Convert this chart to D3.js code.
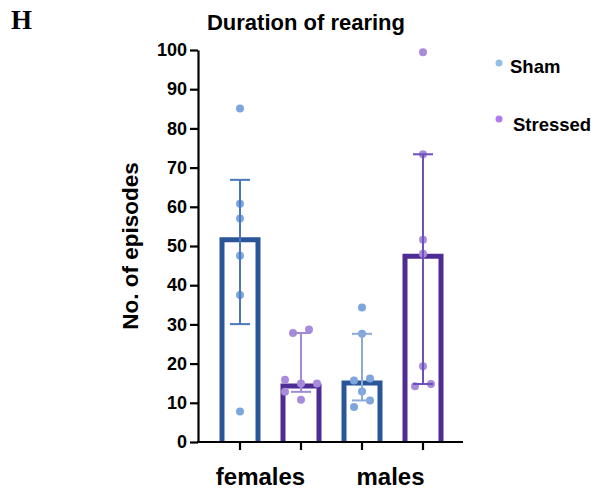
<!DOCTYPE html>
<html>
<head>
<meta charset="utf-8">
<script src="https://cdn.jsdelivr.net/npm/d3@7"></script>
<style>
  html, body { margin: 0; padding: 0; background: #fff; }
  svg text { font-family: "Liberation Sans", Arial, Helvetica, sans-serif; font-weight: bold; fill: #000; }
</style>
</head>
<body>
<svg id="chart" width="608" height="494"></svg>
<script>
// Duration of rearing: individual animals per group, bars = median, whiskers = interquartile range
const groups = ["females", "males"];
const series = ["Sham", "Stressed"];
const femalesSham = [85.1, 60.8, 57.0, 47.5, 37.5, 7.8];
const femalesStressed = [28.7, 27.8, 15.9, 14.9, 14.9, 12.8, 10.8];
const malesSham = [34.3, 27.6, 16.2, 15.7, 12.9, 10.6, 8.9];
const malesStressed = [99.4, 73.4, 51.6, 48.0, 19.3, 14.8, 14.2];
const yTicks = [0, 10, 20, 30, 40, 50, 60, 70, 80, 90, 100];

// horizontal spread of overlapping dots (in dot columns)
const spread = {
  "females|Sham": [0, 0, 0, 0, 0, 0],
  "females|Stressed": [1, -1, -2, 0, 2, -2, 0],
  "males|Sham": [0, 0, 1, -1, 0, 1, -1],
  "males|Stressed": [0, 0, 0, 0, 0, 1, -1]
};

const barColor = { Sham: "#2a5699", Stressed: "#4f2c94" };
const dotColor = { Sham: "#7ea6de", Stressed: "#a98bdb" };
const whiskerColor = {
  "females|Sham": "#4a78ba",
  "females|Stressed": "#a08ad6",
  "males|Sham": "#8caad8",
  "males|Stressed": "#6e50bc"
};
const legendColor = { Sham: "#93bfe6", Stressed: "#b07af0" };

const values = {
  "females|Sham": femalesSham,
  "females|Stressed": femalesStressed,
  "males|Sham": malesSham,
  "males|Stressed": malesStressed
};

// quantile with the (n+1)p rule
function quant(arr, p) {
  const s = arr.slice().sort((a, b) => a - b);
  const n = s.length;
  const pos = p * (n + 1);
  if (pos <= 1) return s[0];
  if (pos >= n) return s[n - 1];
  const lo = Math.floor(pos);
  return s[lo - 1] + (pos - lo) * (s[lo] - s[lo - 1]);
}

const keys = [];
groups.forEach(g => series.forEach(s => keys.push(g + "|" + s)));
const stats = keys.map(k => ({
  key: k,
  group: k.split("|")[0],
  series: k.split("|")[1],
  median: quant(values[k], 0.5),
  q1: quant(values[k], 0.25),
  q3: quant(values[k], 0.75)
}));

const svg = d3.select("#chart");

const y = d3.scaleLinear().domain([0, 100]).range([442, 50]);
const x = d3.scalePoint().domain(keys).range([240, 423]);
const barW = 41, barStroke = 5, capW = 20, dotStep = 8;
const xLeft = 198, xRight = 463;

// bars: open-bottom outlines, stroke kept inside the value edge
svg.append("g").selectAll("path").data(stats).join("path")
  .attr("d", d => {
    const l = x(d.key) - barW / 2 + barStroke / 2;
    const r = x(d.key) + barW / 2 - barStroke / 2;
    const t = y(d.median) + barStroke / 2;
    const b = y(0);
    return `M${l},${b}V${t}H${r}V${b}`;
  })
  .attr("fill", "none")
  .attr("stroke", d => barColor[d.series])
  .attr("stroke-width", barStroke)
  .attr("stroke-linejoin", "miter")
  .attr("stroke-linecap", "butt");

// individual animals
const dots = [];
keys.forEach(k => values[k].forEach((v, i) => dots.push({ key: k, series: k.split("|")[1], v, off: spread[k][i] })));
svg.append("g").selectAll("circle").data(dots).join("circle")
  .attr("cx", d => x(d.key) + d.off * dotStep)
  .attr("cy", d => y(d.v))
  .attr("r", 4)
  .attr("fill", d => dotColor[d.series]);

// interquartile whiskers
const wg = svg.append("g").selectAll("g").data(stats).join("g")
  .attr("stroke", d => whiskerColor[d.key])
  .attr("stroke-width", 2);
wg.append("line")
  .attr("x1", d => x(d.key)).attr("x2", d => x(d.key))
  .attr("y1", d => y(d.q1)).attr("y2", d => y(d.q3));
wg.append("line")
  .attr("x1", d => x(d.key) - capW / 2).attr("x2", d => x(d.key) + capW / 2)
  .attr("y1", d => y(d.q3)).attr("y2", d => y(d.q3));
wg.append("line")
  .attr("x1", d => x(d.key) - capW / 2).attr("x2", d => x(d.key) + capW / 2)
  .attr("y1", d => y(d.q1)).attr("y2", d => y(d.q1));

// y axis
const yAxis = svg.append("g")
  .attr("transform", `translate(${xLeft},0)`)
  .call(d3.axisLeft(y).tickValues(yTicks).tickSize(8).tickSizeOuter(0).tickPadding(3));
yAxis.select(".domain").attr("stroke", "#000").attr("stroke-width", 2.2);
yAxis.selectAll(".tick line").attr("stroke", "#000").attr("stroke-width", 2.2);
yAxis.selectAll(".tick text")
  .attr("font-size", 18)
  .style("font-family", "'Liberation Sans', Arial, sans-serif")
  .style("font-weight", "bold")
  .attr("fill", "#000");

// x axis
const xg = svg.append("g").attr("transform", `translate(0,${y(0)})`);
xg.append("line").attr("x1", xLeft - 1).attr("x2", xRight)
  .attr("stroke", "#000").attr("stroke-width", 2.2);
xg.selectAll("line.tick").data(keys).join("line").attr("class", "tick")
  .attr("x1", d => x(d)).attr("x2", d => x(d))
  .attr("y1", 0).attr("y2", 8)
  .attr("stroke", "#000").attr("stroke-width", 2.2);

// group labels
const labelShift = [-10, -2];
svg.append("g").selectAll("text").data(groups).join("text")
  .attr("x", (g, i) => (x(g + "|Sham") + x(g + "|Stressed")) / 2 + labelShift[i])
  .attr("y", 485)
  .attr("text-anchor", "middle")
  .attr("font-size", 24)
  .text(d => d);

// y label
svg.append("text")
  .attr("transform", "translate(138,246) rotate(-90)")
  .attr("text-anchor", "middle")
  .attr("font-size", 22.5)
  .text("No. of episodes");

// title
svg.append("text")
  .attr("x", 306).attr("y", 30)
  .attr("text-anchor", "middle")
  .attr("font-size", 22)
  .text("Duration of rearing");

// panel letter
svg.append("text")
  .attr("x", 11).attr("y", 29)
  .style("font-family", "'Liberation Serif', 'Times New Roman', serif")
  .attr("font-size", 27)
  .text("H");

// legend
const lg = svg.append("g").selectAll("g").data(series).join("g");
lg.append("circle")
  .attr("cx", 499)
  .attr("cy", (d, i) => [63, 119][i])
  .attr("r", 3.5)
  .attr("fill", d => legendColor[d]);
lg.append("text")
  .attr("x", (d, i) => [510, 513][i])
  .attr("y", (d, i) => [73, 131][i])
  .attr("font-size", 18.5)
  .text(d => d);
</script>
</body>
</html>
